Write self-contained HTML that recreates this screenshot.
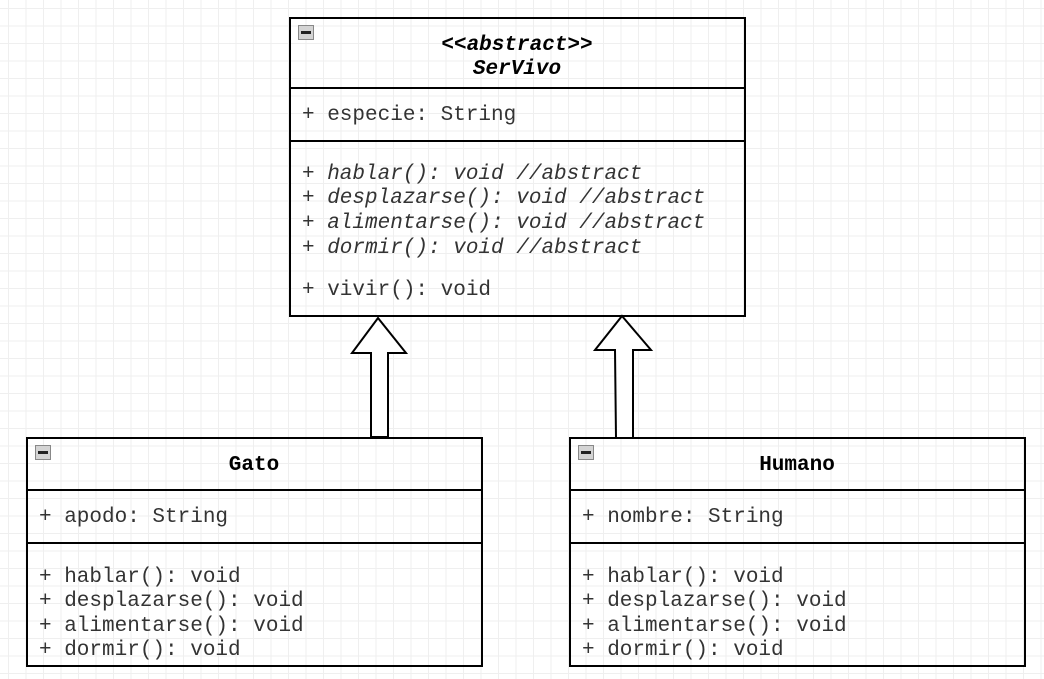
<!DOCTYPE html>
<html><head><meta charset="utf-8"><style>
html,body{margin:0;padding:0;background:#fff;}
body{width:1044px;height:679px;overflow:hidden;
background-image:linear-gradient(#efefef 1px,transparent 1px),linear-gradient(90deg,#efefef 1px,transparent 1px);
background-size:17.5px 17.5px;background-position:8px 8px;}
svg text{font-family:"Liberation Mono",monospace;font-size:21px;fill:#333;}
</style></head><body>
<svg width="1044" height="679" xmlns="http://www.w3.org/2000/svg" style="position:absolute;left:0;top:0">
<g fill="none" stroke="#000" stroke-width="2">
<rect x="290" y="18" width="455" height="298"/>
<line x1="290" y1="88" x2="745" y2="88"/>
<line x1="290" y1="141" x2="745" y2="141"/>
<rect x="27" y="438" width="455" height="228"/>
<line x1="27" y1="490" x2="482" y2="490"/>
<line x1="27" y1="543" x2="482" y2="543"/>
<rect x="570" y="438" width="455" height="228"/>
<line x1="570" y1="490" x2="1025" y2="490"/>
<line x1="570" y1="543" x2="1025" y2="543"/>
<polygon fill="#fff" points="378,318 406,353 388,353 388,437 371,437 371,353 352,353"/>
<polygon fill="#fff" points="622,316 651,350 633,350 633,438 616,438 615,350 595,350"/>
</g>
<g>
<rect x="298.5" y="25.5" width="15" height="14" fill="#d4d4d4" stroke="#888"/><rect x="301" y="31" width="10" height="3" fill="#222"/>
<rect x="35.5" y="445.5" width="15" height="14" fill="#d4d4d4" stroke="#888"/><rect x="38" y="451" width="10" height="3" fill="#222"/>
<rect x="578.5" y="445.5" width="15" height="14" fill="#d4d4d4" stroke="#888"/><rect x="581" y="451" width="10" height="3" fill="#222"/>
</g>
<g style="font-weight:bold;font-style:italic" text-anchor="middle">
<text x="517" y="50" style="fill:#000">&lt;&lt;abstract&gt;&gt;</text>
<text x="517" y="74" style="fill:#000">SerVivo</text>
</g>
<text x="302" y="120">+ especie: String</text>
<g style="font-style:italic">
<text x="302" y="179">+ hablar(): void //abstract</text>
<text x="302" y="203">+ desplazarse(): void //abstract</text>
<text x="302" y="228">+ alimentarse(): void //abstract</text>
<text x="302" y="253">+ dormir(): void //abstract</text>
</g>
<text x="302" y="295">+ vivir(): void</text>
<text x="254" y="470" text-anchor="middle" style="font-weight:bold;fill:#000">Gato</text>
<text x="39" y="522">+ apodo: String</text>
<text x="39" y="582">+ hablar(): void</text>
<text x="39" y="606">+ desplazarse(): void</text>
<text x="39" y="631">+ alimentarse(): void</text>
<text x="39" y="655">+ dormir(): void</text>
<text x="797" y="470" text-anchor="middle" style="font-weight:bold;fill:#000">Humano</text>
<text x="582" y="522">+ nombre: String</text>
<text x="582" y="582">+ hablar(): void</text>
<text x="582" y="606">+ desplazarse(): void</text>
<text x="582" y="631">+ alimentarse(): void</text>
<text x="582" y="655">+ dormir(): void</text>
</svg>
</body></html>
